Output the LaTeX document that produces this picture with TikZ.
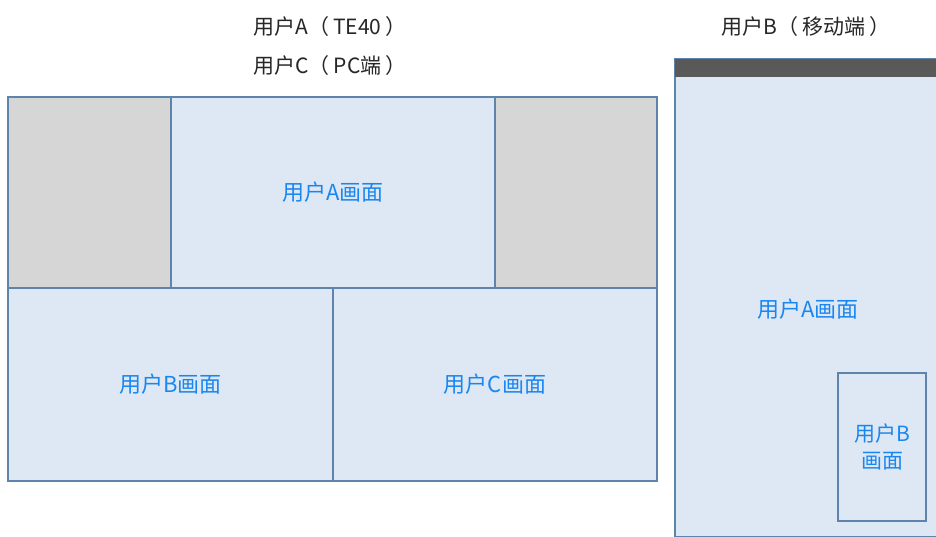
\documentclass[tikz,border=0pt]{standalone}
\usepackage{fontspec}
\setmainfont{Noto Sans CJK SC}
\usepackage{tikz}
\usetikzlibrary{positioning}
\definecolor{paneblue}{HTML}{DDE8F4}
\definecolor{paneedge}{HTML}{5F84AC}
\definecolor{panegray}{HTML}{D6D6D6}
\definecolor{bardark}{HTML}{595959}
\definecolor{labelblue}{HTML}{1A86F0}
\newcommand{\lp}{（\kern4pt}
\newcommand{\rp}{\kern4pt）}
\tikzset{
  pane/.style={draw=paneedge,line width=2pt,fill=paneblue,inner sep=0pt,
    text=labelblue,font=\fontsize{22}{25}\selectfont,align=center},
  blank/.style={pane,fill=panegray},
  title/.style={text=black!85,font=\fontsize{21}{24}\selectfont,inner sep=0pt}
}

\begin{document}
\begin{tikzpicture}[x=1pt,y=-1pt]
  \useasboundingbox (0,0) rectangle (936,536);
  % conference view
  \node[blank,minimum width=163,minimum height=191] (grayL) at (89.5,192.5) {};
  \node[blank,minimum width=162,minimum height=191] (grayR) at (576,192.5) {};
  \node[pane,minimum width=324,minimum height=191] (paneA) at (333,192.5) {用户A画面};
  \node[pane,minimum width=325,minimum height=193] (paneB) at (170.5,384.5) {用户B画面};
  \node[pane,minimum width=324,minimum height=193] (paneC) at (495,384.5) {用户C画面};
  \node[title] (titleA) at (330,27) {用户A\lp TE40\rp};
  \node[title,below=18pt of titleA] (titleC) {用户C\lp PC端\rp};
  % mobile view
  \begin{scope}
    \clip (0,0) rectangle (936,536);
    \node[pane,minimum width=270,minimum height=478] (mobile) at (810,298) {};
    \fill[bardark] ([xshift=1pt,yshift=-1pt]mobile.north west) rectangle ([xshift=-1pt,yshift=-19pt]mobile.north east);
  \end{scope}
  \node[text=labelblue,font=\fontsize{22}{25}\selectfont] (mobA) at (808,309) {用户A画面};
  \node[pane,minimum width=88,minimum height=148,font=\fontsize{21}{27}\selectfont] (mobB) at (882,447) {用户B\\画面};
  \node[title] (titleB) at (806,27) {用户B\lp 移动端\rp};
\end{tikzpicture}
\end{document}
